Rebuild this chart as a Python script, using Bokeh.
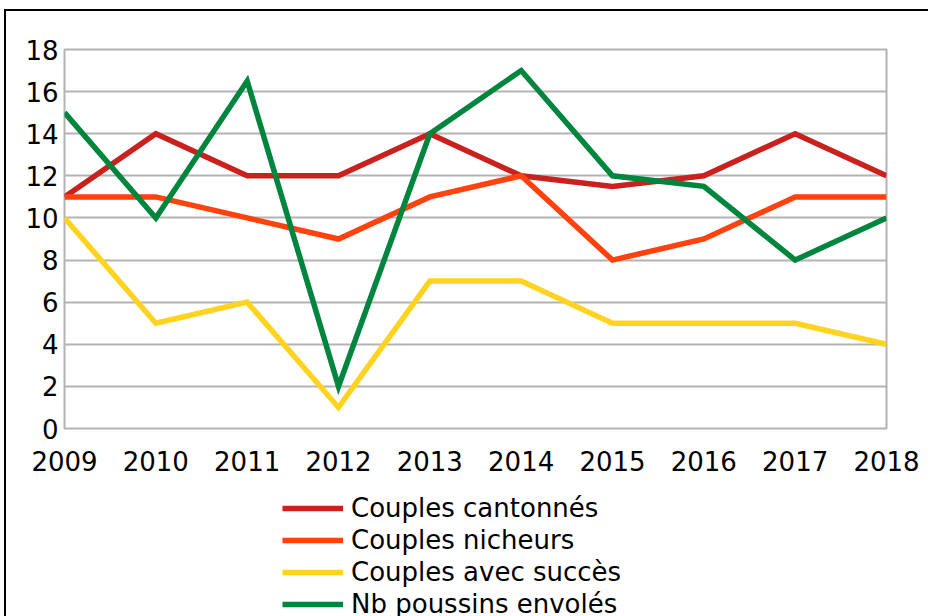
from bokeh.plotting import figure
from bokeh.layouts import column
from bokeh.models import Range1d, FixedTicker, Legend, LegendItem
from bokeh.embed import file_html
from bokeh.resources import INLINE

years = [2009, 2010, 2011, 2012, 2013, 2014, 2015, 2016, 2017, 2018]
cantonnes = [11, 14, 12, 12, 14, 12, 11.5, 12, 14, 12]
nicheurs = [11, 11, 10, 9, 11, 12, 8, 9, 11, 11]
succes = [10, 5, 6, 1, 7, 7, 5, 5, 5, 4]
poussins = [15, 10, 16.5, 2, 14, 17, 12, 11.5, 8, 10]
y_ticks = [0, 2, 4, 6, 8, 10, 12, 14, 16, 18]

series = [
    ("Couples cantonnés", cantonnes, "#C9211E"),
    ("Couples nicheurs", nicheurs, "#FF420E"),
    ("Couples avec succès", succes, "#FFD320"),
    ("Nb poussins envolés", poussins, "#00853E"),
]

FONT = "DejaVu Sans"

# main chart
p = figure(width=922, height=470, output_backend="svg", toolbar_location=None,
           x_range=Range1d(2009, 2018), y_range=Range1d(0, 18),
           min_border_left=58, min_border_top=38, min_border_right=42,
           min_border_bottom=53)
p.background_fill_color = "white"
p.border_fill_color = "white"
p.outline_line_color = "#b3b3b3"
p.outline_line_width = 2

p.xgrid.grid_line_color = None
p.ygrid.grid_line_color = "#b3b3b3"
p.ygrid.grid_line_width = 2

p.xaxis.ticker = FixedTicker(ticks=years)
p.yaxis.ticker = FixedTicker(ticks=y_ticks)
for ax in (p.xaxis, p.yaxis):
    ax.axis_line_color = None
    ax.major_tick_line_color = None
    ax.minor_tick_line_color = None
    ax.major_tick_out = 0
    ax.major_tick_in = 0
    ax.major_label_text_font = FONT
    ax.major_label_text_font_size = "26px"
    ax.major_label_text_color = "black"
p.yaxis.major_label_standoff = 6
p.xaxis.major_label_standoff = 22

for name, vals, col in series:
    p.line(years, vals, line_color=col, line_width=5.5, line_join="miter")

# legend strip below the chart (its frame is aligned with the main frame)
q = figure(width=922, height=135, output_backend="svg", toolbar_location=None,
           x_range=Range1d(0, 1), y_range=Range1d(0, 1),
           min_border_left=58, min_border_right=42, min_border_top=0,
           min_border_bottom=0)
q.axis.visible = False
q.grid.visible = False
q.outline_line_color = None
q.background_fill_color = "white"
q.border_fill_color = "white"

items = []
for name, vals, col in series:
    # same series, outside this strip's ranges: only the legend sample shows
    r = q.line(years, vals, line_color=col, line_width=5.5)
    items.append(LegendItem(label=name, renderers=[r]))

legend = Legend(items=items, location=(218, -4), orientation="vertical",
                glyph_width=61, glyph_height=32, label_height=32,
                label_standoff=8, spacing=0, padding=0, margin=0,
                label_text_font=FONT, label_text_font_size="26px",
                label_text_color="black", border_line_alpha=0,
                background_fill_alpha=0)
q.add_layout(legend, "center")

layout = column(p, q, spacing=0)
layout.styles = {"margin-left": "4px", "margin-top": "9px",
                 "border-left": "2px solid black", "border-top": "2px solid black"}

open("out.html", "w").write(file_html(layout, INLINE))
